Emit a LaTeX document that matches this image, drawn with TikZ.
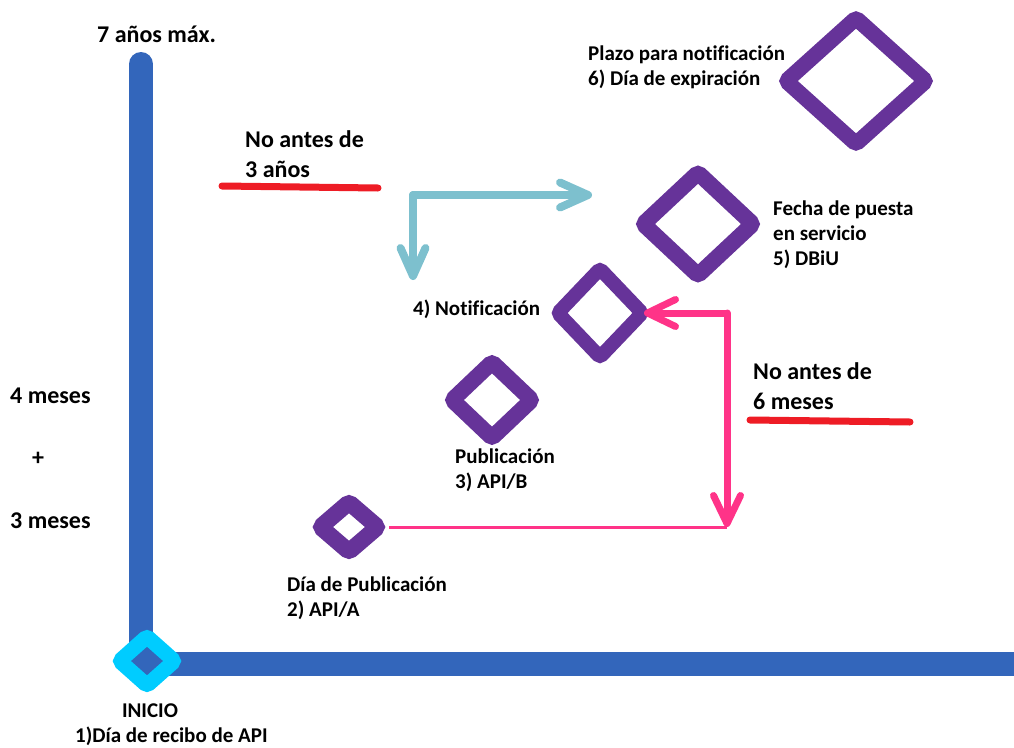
\documentclass[tikz,border=0pt]{standalone}
\usepackage{fontspec}
\setmainfont{Carlito}[Ligatures=NoCommon]
\usetikzlibrary{shapes.geometric,arrows.meta}
\definecolor{ejeazul}{HTML}{3366BB}
\definecolor{morado}{HTML}{663399}
\definecolor{celeste}{HTML}{00CCFF}
\definecolor{rosa}{HTML}{FF3388}
\definecolor{verdeazul}{HTML}{7DC0CE}
\definecolor{rojo}{HTML}{EE1C25}
\tikzset{
  rombo/.style={diamond, aspect=1, draw=morado, inner sep=0pt, rounded corners=3pt},
  etiq/.style={font=\bfseries\fontsize{21}{25}\selectfont, align=left, anchor=base west, inner sep=0pt},
  grande/.style={etiq, font=\bfseries\fontsize{24}{30}\selectfont},
  subraya/.style={rojo, line width=7pt, line cap=round},
  flechaverde/.style={verdeazul, line width=8pt, line cap=round, -{Straight Barb[length=28pt, width=25pt, round]}},
  flecharosa/.style={rosa, line width=7pt, line cap=round, -{Straight Barb[length=28pt, width=27pt, round]}}
}
\begin{document}
\begin{tikzpicture}[x=1pt, y=-1pt]
\useasboundingbox (0,0) rectangle (1014,747);
% ejes
\draw[ejeazul, line width=24pt, line cap=round, line join=round] (141,64) -- (141,664) -- (1030,664);
% hitos
\node[rombo, draw=celeste, fill=ejeazul, line width=15pt, minimum width=61, minimum height=55] (d1) at (147,661) {};
\node[rombo, line width=16.5pt, minimum width=64, minimum height=56] (d2) at (349,527) {};
\node[rombo, line width=16pt, minimum width=86, minimum height=82] (d3) at (492,400) {};
\node[rombo, line width=14pt, minimum width=90, minimum height=94] (d4) at (600,313) {};
\node[rombo, line width=16pt, minimum width=116, minimum height=109] (d5) at (698,224) {};
\node[rombo, line width=15.5pt, minimum width=146, minimum height=132] (d6) at (856,81) {};
% textos
\node[grande] (t7) at (97,42) {7 años máx.};
\node[etiq] (t6) at (588,85) {Plazo para notificación\\6) Día de expiración};
\node[grande] (n3) at (245,177) {No antes de\\3 años};
\node[etiq] (t5) at (773,265) {Fecha de puesta\\en servicio\\5) DBiU};
\node[etiq] (t4) at (413,315) {4) Notificación};
\node[grande] (n6) at (753,409) {No antes de\\6 meses};
\node[etiq] (t3) at (455,488) {Publicación\\3) API/B};
\node[etiq] (t2) at (287,616) {Día de Publicación\\2) API/A};
\node[etiq, anchor=base] (t1a) at (150,717) {INICIO};
\node[etiq] (t1b) at (75,742) {1)Día de recibo de API};
\node[grande] (m4) at (10,403) {4 meses};
\node[grande, anchor=center] (mas) at (38,459) {+};
\node[grande] (m3) at (10,528) {3 meses};
\draw[subraya] (222,186) -- (378,188);
\draw[subraya] (750,420) -- (910,422);
% flechas
\coordinate (tc) at (413,195);
\coordinate (tr) at (592,195);
\coordinate (tb) at (413,280);
\draw[flechaverde] (tc) -- (tr);
\draw[flechaverde] (tc) -- (tb);
\coordinate (pk) at (727,313);
\coordinate (pb) at (d2.east -| pk);
\draw[rosa, line width=3pt] (d2.east) -- (pb);
\draw[flecharosa] (pk) -- (pb);
\draw[flecharosa] (pk) -- ([xshift=-8pt]d4.east);
\end{tikzpicture}
\end{document}
